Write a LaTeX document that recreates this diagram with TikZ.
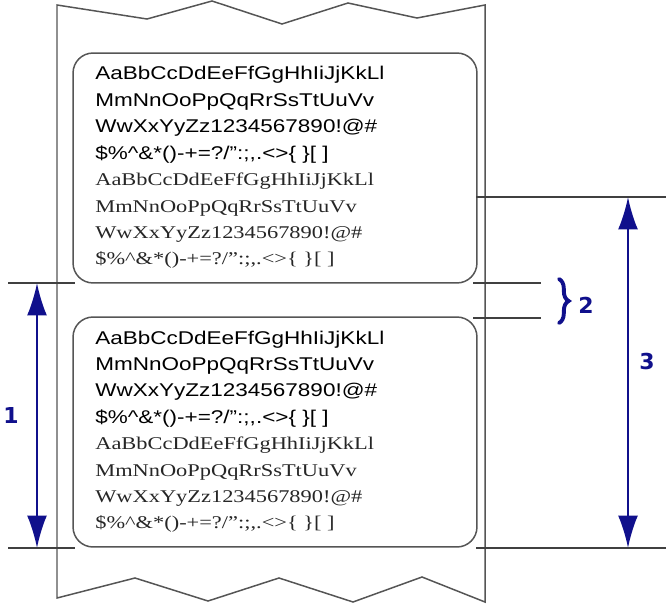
\documentclass[tikz,border=0pt]{standalone}
\usepackage{fontspec}
\setmainfont{Liberation Serif}
\setsansfont{Liberation Sans}
\newfontfamily\dimfont{DejaVu Sans}
\usetikzlibrary{positioning,calc,arrows.meta,decorations.pathreplacing}
\definecolor{dimblue}{RGB}{16,16,140}
\definecolor{papergray}{RGB}{85,85,85}
\newcommand\rowA{AaBbCcDdEeFfGgHhIiJjKkLl}
\newcommand\rowB{MmNnOoPpQqRrSsTtUuVv}
\newcommand\rowC{WwXxYyZz1234567890!@\#}
\newcommand\rowD{\$\%\textasciicircum\&*()-+=?/":;,.<>\{ \}[ ]}
\newcommand\sansrow[1]{\scalebox{1.22}[1]{\sffamily\fontsize{10.5}{12}\selectfont #1}}
\newcommand\serifrow[1]{\scalebox{1.25}[1]{\rmfamily\fontsize{10.2}{12}\selectfont #1}}

\begin{document}
\begin{tikzpicture}[x=0.02cm, y=-0.02cm, >={Latex[length=6.5mm,width=4mm]},
  paper/.style={draw=papergray, line width=0.85pt, line join=miter},
  lblbox/.style={draw=papergray, line width=0.85pt, rounded corners=0.4cm, minimum width=8.08cm, minimum height=4.6cm, inner sep=0pt},
  dimline/.style={draw=black!75, line width=0.6pt},
  dimarrow/.style={<->, draw=dimblue, fill=dimblue, line width=1.2pt},
  dimlabel/.style={text=dimblue, font=\dimfont\bfseries\fontsize{12.5}{14}\selectfont, inner sep=0pt},
  row/.style={anchor=base west, inner sep=0pt, text=black}]

\useasboundingbox (0,0) rectangle (666,608);
\draw[paper] (57,5) -- (147,19) -- (212,1) -- (282,24) -- (348,3) -- (417,18) -- (485,5)
  -- (485,602) -- (422,577) -- (353,602) -- (279,578) -- (208,601) -- (135,578) -- (57,598) -- cycle;

\node[lblbox] (lblA) at (275,168) {};
\node[lblbox] (lblB) at (275,432) {};

\foreach \b/\y in {A/80, B/344} {
  \foreach \r [count=\i from 0] in {\rowA,\rowB,\rowC,\rowD} {
    \node[row] (s\b\i) at (95,\y+26.4*\i) {\sansrow{\r}};
    \node[row, text=black!85] (t\b\i) at (95,\y+105.6+26.4*\i) {\serifrow{\r}};
  }
}

\coordinate (l1) at (8,283);   \coordinate (l1e) at (75,283);
\coordinate (l2) at (8,548);   \coordinate (l2e) at (75,548);
\coordinate (r1) at (476,197); \coordinate (r1e) at (666,197);
\coordinate (g1) at (473,283); \coordinate (g1e) at (541,283);
\coordinate (g2) at (473,318); \coordinate (g2e) at (541,318);
\coordinate (r2) at (476,548); \coordinate (r2e) at (666,548);
\foreach \p in {l1,l2,r1,g1,g2,r2}
  \draw[dimline] (\p) -- (\p e);

\coordinate (a1) at (37,283);  \coordinate (a1e) at (37,548);
\coordinate (a3) at (628,197); \coordinate (a3e) at (628,548);
\coordinate (b2) at (559,279); \coordinate (b2e) at (559,323);
\draw[dimarrow] (a1) -- (a1e);
\draw[dimarrow] (a3) -- (a3e);
\draw[dimblue, line width=2.2pt, line cap=round, decorate, decoration={brace, amplitude=5.5pt}] (b2) -- (b2e);

\node[dimlabel] (n1) at (11,415) {1};
\node[dimlabel] (n2) at (586,305) {2};
\node[dimlabel] (n3) at (647,362) {3};
\end{tikzpicture}
\end{document}
